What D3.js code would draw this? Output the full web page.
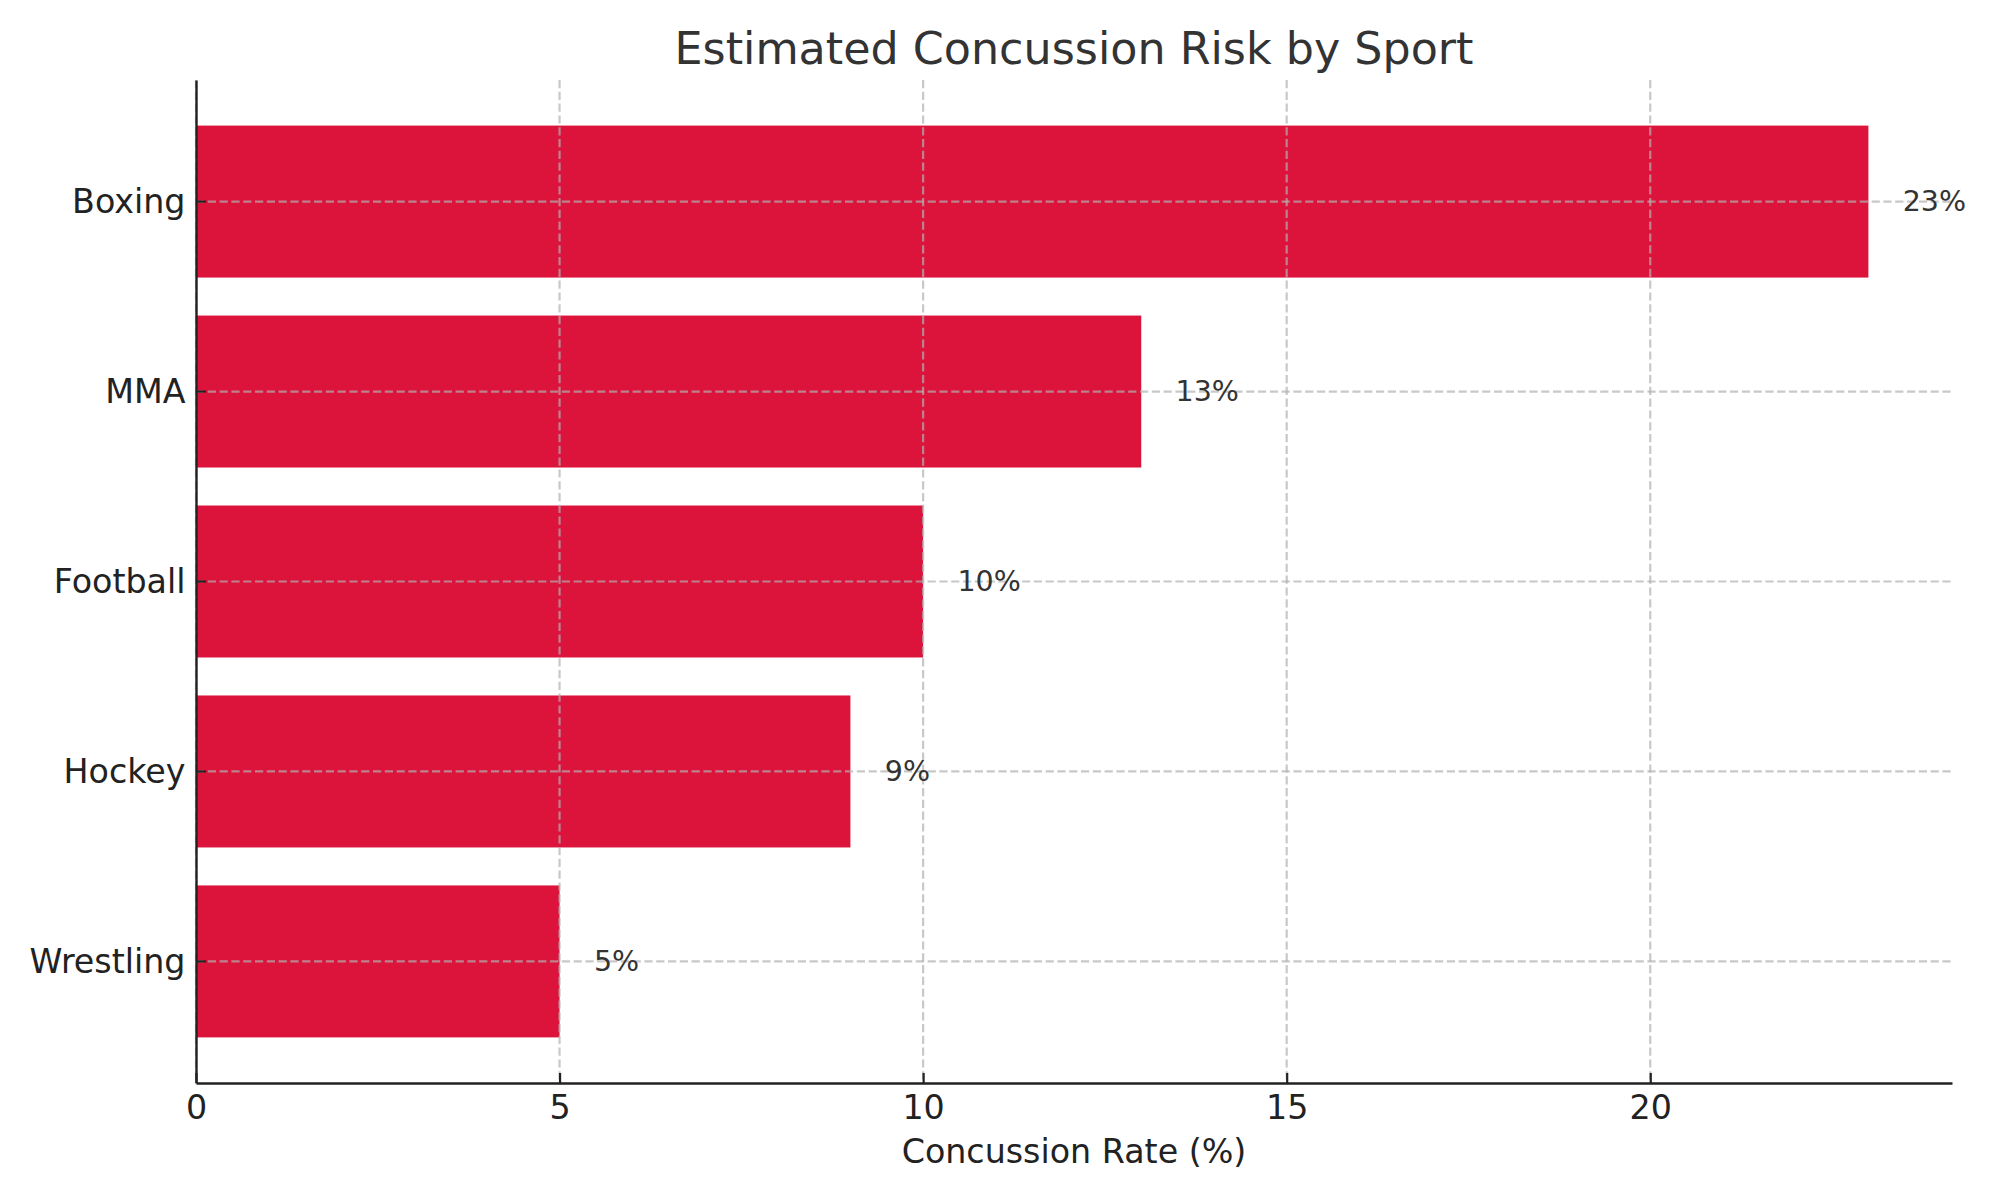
<!DOCTYPE html>
<html>
<head>
<meta charset="utf-8">
<script src="https://cdn.jsdelivr.net/npm/d3@7"></script>
<style>
  body { margin: 0; background: #fff; }
  text { font-family: "DejaVu Sans", sans-serif; }
</style>
</head>
<body>
<script>
// data, top bar first
const sports = ["Boxing", "MMA", "Football", "Hockey", "Wrestling"];
const rates = [23, 13, 10, 9, 5];
const xTicks = [0, 5, 10, 15, 20];

const W = 2000, H = 1200;
const margin = { top: 80, right: 48, bottom: 117, left: 196 },
      width = W - margin.left - margin.right,
      height = H - margin.top - margin.bottom;

const data = sports.map((s, i) => ({ sport: s, rate: rates[i] }));

const x = d3.scaleLinear()
    .domain([0, d3.max(rates) * 1.05])
    .range([0, width]);

const y = d3.scaleBand()
    .domain(sports)
    .range([0, height])
    .paddingInner(0.2)
    .paddingOuter(0.24);

const svg = d3.select("body").append("svg")
    .attr("width", W)
    .attr("height", H)
  .append("g")
    .attr("transform", "translate(" + margin.left + "," + margin.top + ")");

// bars
svg.append("g")
  .selectAll("rect")
  .data(data)
  .enter().append("rect")
    .attr("x", x(0))
    .attr("y", d => y(d.sport))
    .attr("width", d => x(d.rate) - x(0))
    .attr("height", y.bandwidth())
    .attr("fill", "#dc143c");

// grid on top of the bars, like the source
const grid = svg.append("g")
    .attr("stroke", "#b0b0b0")
    .attr("stroke-opacity", 0.7)
    .attr("stroke-width", 2.2)
    .attr("stroke-dasharray", "8.2,3.6");

grid.selectAll(".vg")
  .data(xTicks)
  .enter().append("line")
    .attr("x1", d => x(d)).attr("x2", d => x(d))
    .attr("y1", 0).attr("y2", height);

grid.selectAll(".hg")
  .data(sports)
  .enter().append("line")
    .attr("x1", 0).attr("x2", width)
    .attr("y1", d => y(d) + y.bandwidth() / 2)
    .attr("y2", d => y(d) + y.bandwidth() / 2);

// value labels
svg.append("g")
  .selectAll("text")
  .data(data)
  .enter().append("text")
    .attr("x", d => x(d.rate + 0.5) - 2)
    .attr("y", d => y(d.sport) + y.bandwidth() / 2)
    .attr("dy", "0.32em")
    .attr("font-size", 28.5)
    .attr("fill", "#333")
    .text(d => d.rate + "%");

// axes
const xAxis = svg.append("g")
    .attr("transform", "translate(0," + height + ")")
    .call(d3.axisBottom(x).tickValues(xTicks).tickSizeInner(-10).tickSizeOuter(0).tickPadding(12));

const yAxis = svg.append("g")
    .call(d3.axisLeft(y).tickSizeInner(-10).tickSizeOuter(0).tickPadding(10.5));

[xAxis, yAxis].forEach(a => {
  a.select(".domain").attr("stroke", "#222").attr("stroke-width", 2.4);
  a.selectAll(".tick line").attr("stroke", "#222").attr("stroke-width", 2.2);
  a.selectAll(".tick text")
    .attr("font-size", 33.3)
    .attr("fill", "#222")
    .style("font-family", "DejaVu Sans");
});
xAxis.selectAll(".tick text").attr("dy", "0.72em");
yAxis.selectAll(".tick text").attr("dy", "0.35em");

// x label
svg.append("text")
    .attr("x", width / 2)
    .attr("y", height + 80)
    .attr("text-anchor", "middle")
    .attr("font-size", 33.3)
    .attr("fill", "#222")
    .text("Concussion Rate (%)");

// title
svg.append("text")
    .attr("x", width / 2)
    .attr("y", -16)
    .attr("text-anchor", "middle")
    .attr("font-size", 44.4)
    .attr("fill", "#333")
    .text("Estimated Concussion Risk by Sport");
</script>
</body>
</html>
